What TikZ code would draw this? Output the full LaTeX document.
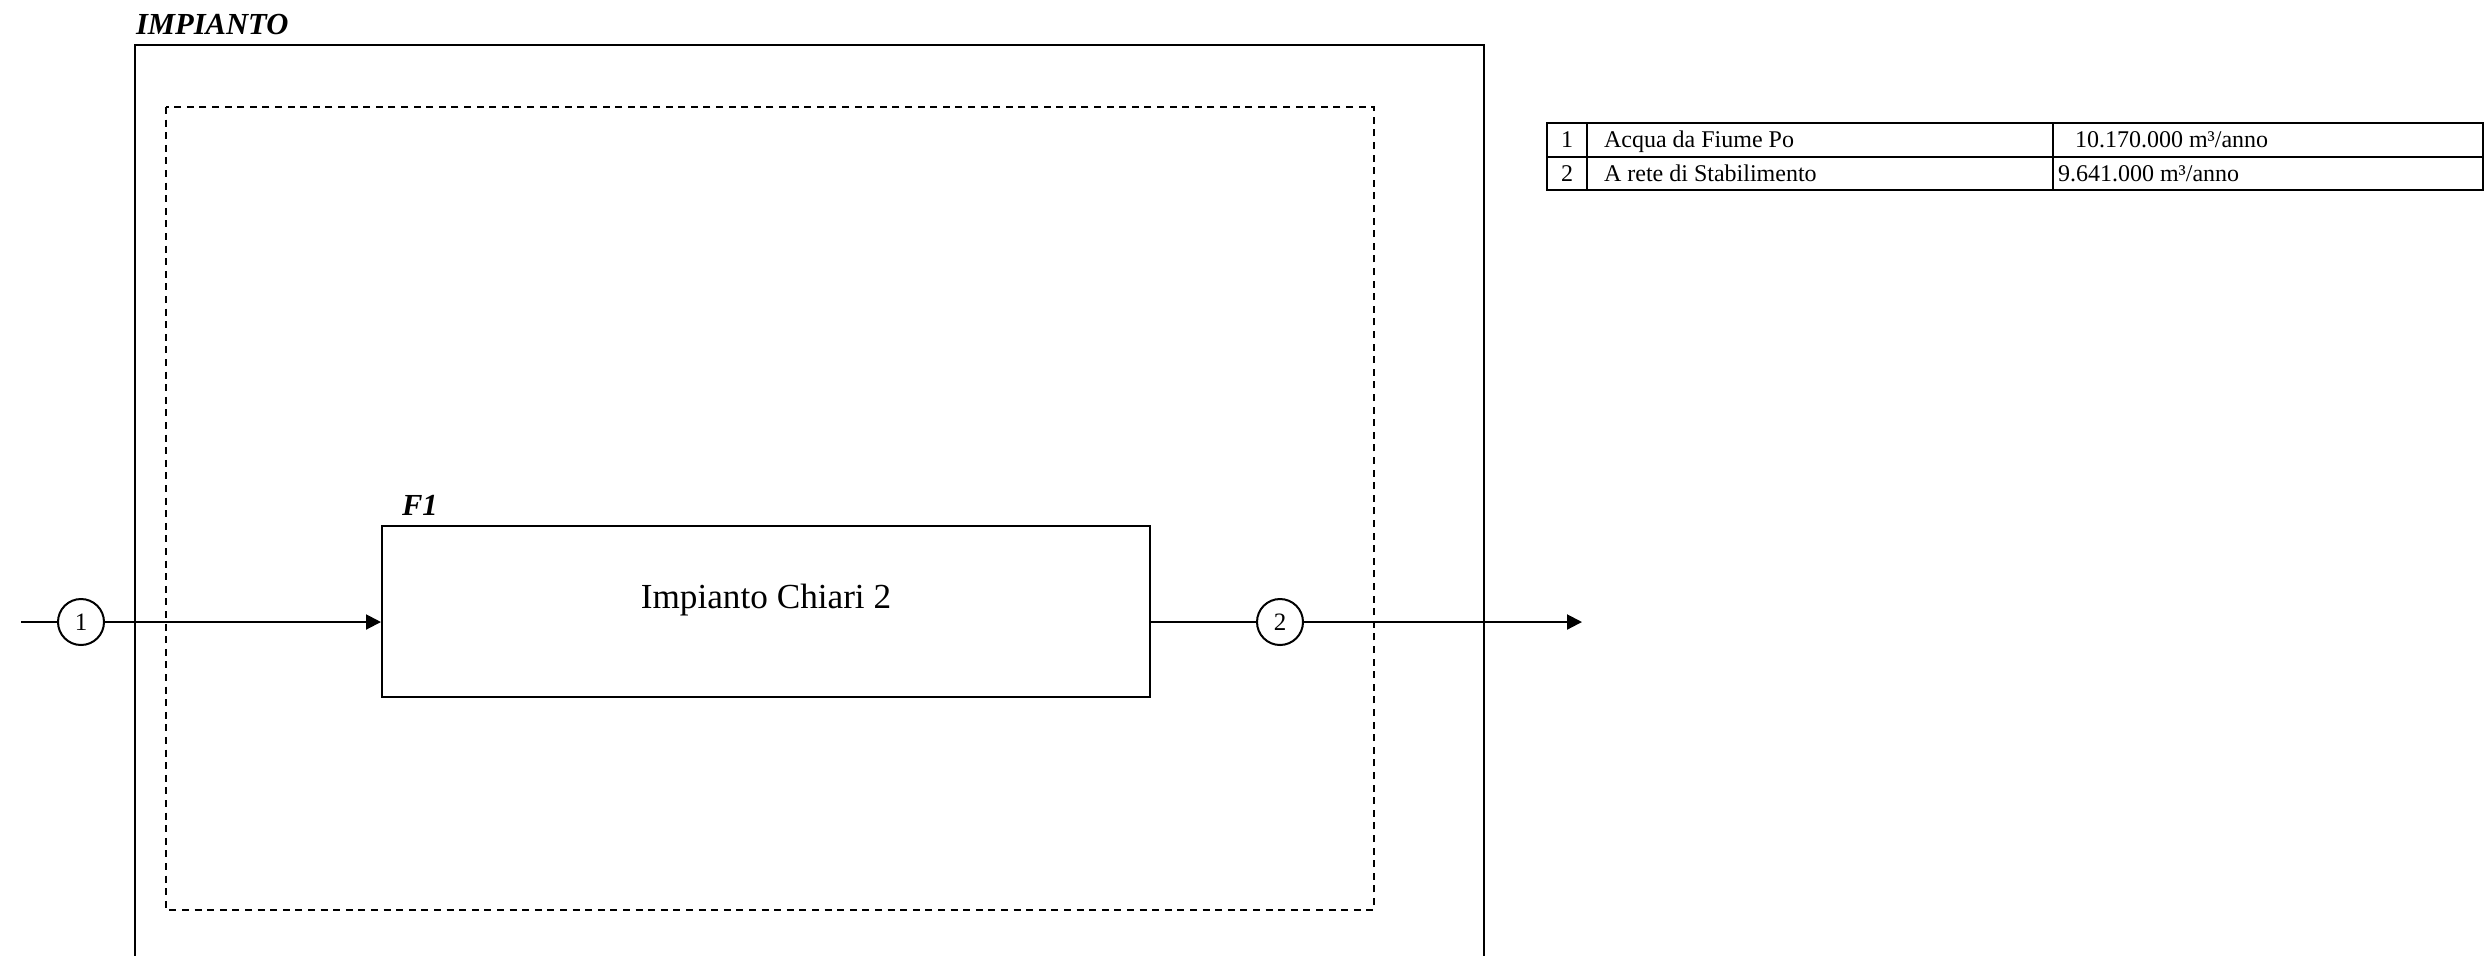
\documentclass[tikz,border=0pt]{standalone}
\usepackage{fontspec}
\setmainfont{Liberation Serif}
\usetikzlibrary{arrows.meta}
\begin{document}
\begin{tikzpicture}[x=0.5pt,y=-0.5pt,line width=1pt,
  flow/.style={-{Triangle[length=7.5pt,width=7.5pt]}},
  stream/.style={circle,draw,fill=white,minimum size=23pt,inner sep=0pt,font=\fontsize{12.5}{12.5}\selectfont},
  procbox/.style={draw,minimum width=384pt,minimum height=85.5pt,inner sep=0pt},
  title/.style={font=\fontsize{15.3}{15.3}\selectfont\bfseries\itshape,anchor=base west,inner sep=0pt},
  cell/.style={font=\fontsize{12}{12}\selectfont,anchor=base west,inner sep=0pt},
  tline/.style={line width=0.8pt},
  zone/.style={dashed,dash pattern=on 3.5pt off 2.8pt}]
\useasboundingbox (0,0) rectangle (2487,955);
% outer plant frame (open at bottom)
\draw (135,970) -- (135,45) -- (1484,45) -- (1484,970);
\node[title] (impianto) at (135,34) {IMPIANTO};
% dashed zone
\draw[zone] (166,107) rectangle (1374,910);
% process box
\node[procbox] (f1) at (766,611.5) {};
\node[title] (f1lab) at (401,515) {F1};
\node[font=\fontsize{17.6}{17.6}\selectfont,anchor=base,inner sep=0pt] (f1txt) at (766,608) {Impianto Chiari 2};
% streams
\coordinate (in) at (21,622);
\node[stream] (s1) at (81,622) {1};
\node[stream] (s2) at (1280,622) {2};
\coordinate (out) at (1582,622);
\draw (in) -- (s1);
\draw[flow] (s1) -- (s1 -| f1.west);
\draw (s2 -| f1.east) -- (s2);
\draw[flow] (s2) -- (out);
% table
\draw[tline] (1547,123) rectangle (2483,190);
\draw[tline] (1547,157) -- (2483,157);
\draw[tline] (1587,123) -- (1587,190);
\draw[tline] (2053,123) -- (2053,190);
\node[cell,anchor=base] (n1) at (1567,147) {1};
\node[cell,anchor=base] (n2) at (1567,181) {2};
\node[cell] (d1) at (1603,147) {Acqua da Fiume Po};
\node[cell] (d2) at (1603,181) {A rete di Stabilimento};
\node[cell] (q1) at (2074,147) {10.170.000 m³/anno};
\node[cell] (q2) at (2057,181) {9.641.000 m³/anno};
\end{tikzpicture}
\end{document}
